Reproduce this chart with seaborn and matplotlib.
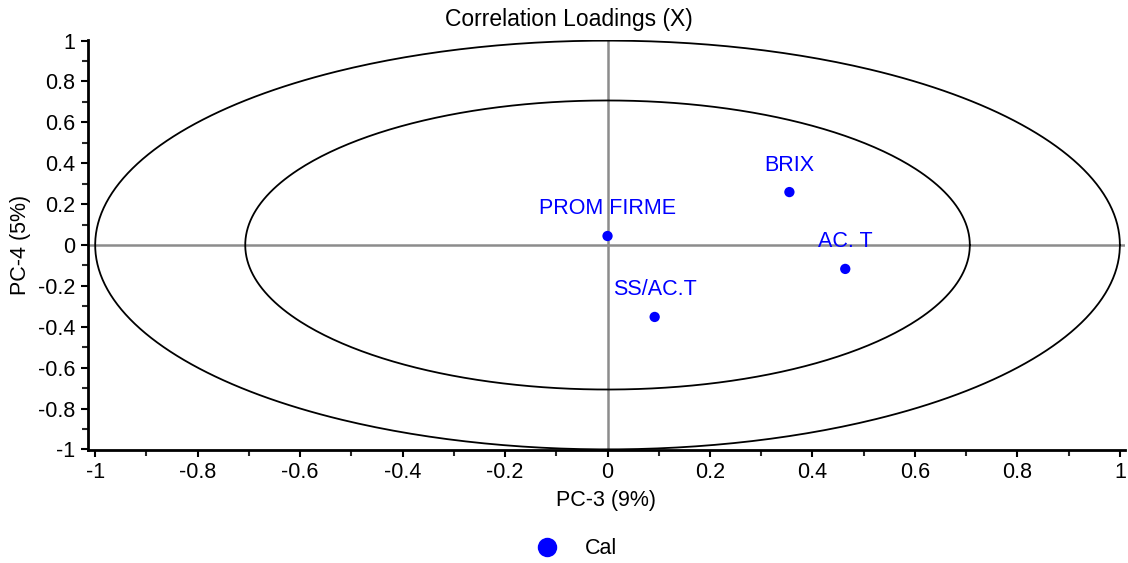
import numpy as np
import pandas as pd
import matplotlib
matplotlib.use("Agg")
import matplotlib.pyplot as plt
import seaborn as sns
from matplotlib.lines import Line2D

variables = ["PROM FIRME", "BRIX", "AC. T", "SS/AC.T"]
pc3 = [0.0, 0.355, 0.464, 0.092]
pc4 = [0.044, 0.259, -0.117, -0.352]
group = ["Cal", "Cal", "Cal", "Cal"]
ticks = [-1, -0.8, -0.6, -0.4, -0.2, 0, 0.2, 0.4, 0.6, 0.8, 1]
tick_labels = ["-1", "-0.8", "-0.6", "-0.4", "-0.2", "0", "0.2", "0.4", "0.6", "0.8", "1"]
ellipse_radii = [1.0, np.sqrt(0.5)]

sns.set_theme(style="white")
plt.rcParams["font.family"] = ["Liberation Sans", "DejaVu Sans"]

df = pd.DataFrame({"PC-3": pc3, "PC-4": pc4, "Variable": variables, "Group": group})

fig = plt.figure(figsize=(11.28, 5.63), dpi=100)
ax = fig.add_axes([88 / 1128, 1 - 450 / 563, (1125 - 88) / 1128, (450 - 39.6) / 563])

# reference lines
ax.axhline(0, color="#8c8c8c", lw=1.8, zorder=1)
ax.axvline(0, color="#8c8c8c", lw=1.8, zorder=1)

# ellipses (circles in data units)
t = np.linspace(0, 2 * np.pi, 500)
for r in ellipse_radii:
    ax.plot(r * np.cos(t), r * np.sin(t), color="black", lw=1.3, zorder=2)

sns.scatterplot(data=df, x="PC-3", y="PC-4", hue="Group", palette={"Cal": "#0000ff"},
                s=55, edgecolor="none", ax=ax, zorder=3, legend=False)

for xv, yv, name in zip(pc3, pc4, variables):
    ax.annotate(name, (xv, yv), xytext=(0, 15.5), textcoords="offset points",
                ha="center", va="baseline", color="#0000ff", fontsize=15.5)

ax.set_xlim(-1.014, 1.01)
ax.set_ylim(-1.003, 1.005)
ax.set_xticks(ticks)
ax.set_xticklabels(tick_labels)
ax.set_yticks(ticks)
ax.set_yticklabels(tick_labels)
ax.set_xticks(np.arange(-0.9, 1.0, 0.2), minor=True)
ax.set_yticks(np.arange(-0.9, 1.0, 0.2), minor=True)
ax.tick_params(axis="both", which="major", direction="out", length=5, width=1.5,
               labelsize=15.5, colors="black", pad=4, bottom=True, left=True)
ax.tick_params(axis="both", which="minor", direction="out", length=4, width=1.5,
               bottom=True, left=True)

for side in ["top", "right"]:
    ax.spines[side].set_visible(False)
for side in ["left", "bottom"]:
    ax.spines[side].set_visible(True)
    ax.spines[side].set_color("black")
    ax.spines[side].set_linewidth(2)

ax.set_xlabel("PC-3 (9%)", fontsize=15.5, color="black", labelpad=5)
ax.set_ylabel("PC-4 (5%)", fontsize=15.5, color="black", labelpad=5)
fig.text(569 / 1128, 1 - 19.5 / 563, "Correlation Loadings (X)", fontsize=16.5,
         color="black", ha="center", va="center")

handle = Line2D([], [], marker="o", color="none", markerfacecolor="#0000ff",
                markeredgecolor="none", markersize=14)
fig.legend([handle], ["Cal"], loc="center left", bbox_to_anchor=(506 / 1128, 0.025),
           frameon=False, fontsize=15.5, handletextpad=0.75, labelcolor="black")

fig.savefig("out.png", dpi=100)
